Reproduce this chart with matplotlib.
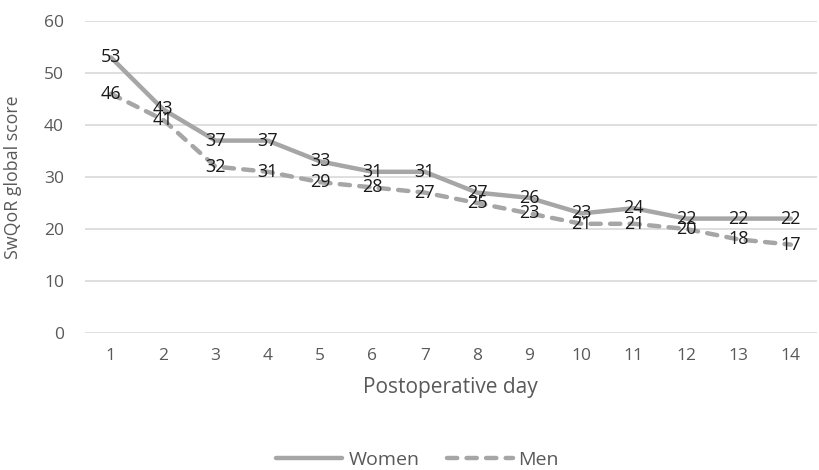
import matplotlib
matplotlib.use("Agg")
import matplotlib.pyplot as plt
from matplotlib.lines import Line2D

days = list(range(1, 15))
women = [53, 43, 37, 37, 33, 31, 31, 27, 26, 23, 24, 22, 22, 22]
men = [46, 41, 32, 31, 29, 28, 27, 25, 23, 21, 21, 20, 18, 17]

plt.rcParams['font.family'] = ['Open Sans', 'DejaVu Sans']
fig = plt.figure(figsize=(8.19, 4.70), dpi=100)
ax = fig.add_axes([0.1035, 0.2915, 0.894, 0.6638])

col = '#a6a6a6'
dash = (0, (2.3, 2.1))
ax.plot(days, women, color=col, lw=3.2, solid_capstyle='round', solid_joinstyle='round', zorder=3)
ax.plot(days, men, color=col, lw=3.2, linestyle=dash, dash_capstyle='round', zorder=3)

for x, y in zip(days, women):
    ax.text(x, y, str(y), ha='center', va='center', fontsize=13, color='#1a1a1a', zorder=5)
for x, y in zip(days, men):
    ax.text(x, y, str(y), ha='center', va='center', fontsize=13, color='#1a1a1a', zorder=5)

ax.set_xlim(0.5, 14.5)
ax.set_ylim(0, 60)
ax.set_yticks(range(0, 61, 10))
ax.set_xticks(days)
ax.grid(axis='y', color='#d9d9d9', lw=1.2)
ax.set_axisbelow(True)
for s in ax.spines.values():
    s.set_visible(False)
ax.tick_params(axis='both', length=0, colors='#595959', labelsize=12.5)
ax.tick_params(axis='x', pad=11)
ax.tick_params(axis='y', pad=15)
ax.set_xlabel('Postoperative day', color='#595959', fontsize=15, labelpad=9)
ax.set_ylabel('SwQoR global score', color='#595959', fontsize=12.8)
ax.yaxis.set_label_coords(-0.086, 0.5)

handles = [Line2D([], [], color=col, lw=3.2, solid_capstyle='round'),
           Line2D([], [], color=col, lw=3.2, linestyle=dash, dash_capstyle='round')]
fig.legend(handles, ['Women', 'Men'], loc='center', bbox_to_anchor=(0.51, 0.021), ncol=2,
           frameon=False, fontsize=14, labelcolor='#595959', handlelength=3.4, columnspacing=1.4,
           handletextpad=0.3)

fig.savefig('out.png', dpi=100)
